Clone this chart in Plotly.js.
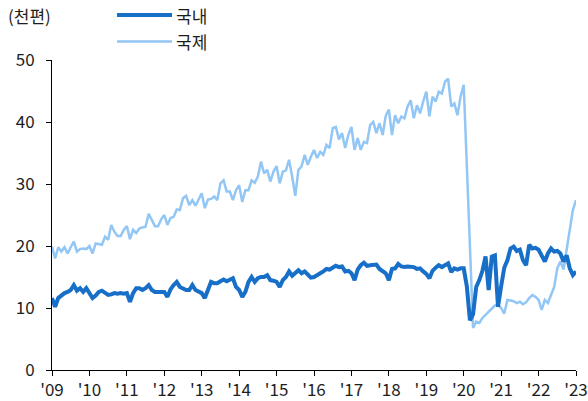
<!DOCTYPE html>
<html>
<head>
<meta charset="utf-8">
<script src="https://cdn.plot.ly/plotly-3.0.1.min.js"></script>
<style>
  html, body { margin: 0; padding: 0; background: white; }
  #grafica { width: 588px; height: 401px; }
</style>
</head>
<body>
<div id="grafica"></div>
<script>
// 월별 운항편수 (천편), 2009.01 ~ 2023.01
const anioInicio = 2009;
const etiquetasAnio = ["'09", "'10", "'11", "'12", "'13", "'14", "'15", "'16", "'17", "'18", "'19", "'20", "'21", "'22", "'23"];
const nombreSerie = ["국내", "국제"];

const domestico = [
    11.6, 10.2, 11.6, 12.1, 12.4, 12.6, 12.9, 13.7, 12.8, 13.2, 12.6, 13.2, // 2009
    12.4, 11.6, 12.0, 12.6, 12.8, 12.4, 12.1, 12.2, 12.4, 12.3, 12.4, 12.3, // 2010
    12.4, 11.0, 12.4, 13.2, 13.2, 12.9, 13.2, 13.7, 12.9, 12.6, 12.6, 12.6, // 2011
    12.6, 11.8, 13.0, 13.7, 14.2, 13.4, 13.2, 12.9, 12.9, 13.7, 12.9, 12.6, // 2012
    12.4, 11.6, 12.9, 14.2, 14.0, 14.0, 14.3, 14.6, 14.3, 14.5, 14.8, 13.4, // 2013
    12.9, 11.8, 12.6, 14.2, 15.0, 14.2, 14.8, 15.0, 15.0, 15.3, 14.5, 14.4, // 2014
    14.2, 13.4, 14.5, 15.0, 15.9, 15.2, 15.6, 16.1, 15.6, 15.9, 15.4, 14.9, // 2015
    15.0, 15.4, 15.6, 15.9, 16.3, 16.2, 16.6, 16.8, 16.6, 16.7, 15.9, 16.0, // 2016
    15.6, 14.5, 16.2, 16.9, 17.3, 16.8, 16.9, 16.9, 17.0, 16.3, 16.0, 15.6, // 2017
    14.5, 16.3, 16.4, 17.1, 16.7, 16.6, 16.7, 16.7, 16.6, 16.3, 16.4, 15.9, // 2018
    15.5, 14.8, 16.0, 16.5, 16.9, 16.6, 16.9, 17.2, 15.8, 16.4, 16.2, 16.4, // 2019
    16.4, 13.5, 8.0, 9.0, 13.4, 14.5, 16.0, 18.3, 12.9, 18.3, 18.5, 10.2,   // 2020
    13.5, 16.5, 17.7, 19.6, 19.9, 19.2, 19.4, 17.7, 16.9, 20.2, 19.6, 19.7, // 2021
    19.4, 18.5, 17.5, 18.8, 19.6, 19.1, 19.2, 18.8, 17.5, 18.5, 16.4, 15.3, // 2022
    15.9                                                                    // 2023
];

const internacional = [
    19.9, 18.0, 19.8, 19.1, 19.8, 18.8, 19.8, 20.7, 19.1, 19.5, 19.6, 19.5, // 2009
    20.0, 18.8, 20.4, 20.3, 20.2, 21.5, 21.0, 23.4, 22.3, 21.6, 21.6, 22.6, // 2010
    23.2, 21.1, 22.6, 22.1, 22.8, 23.0, 23.1, 25.2, 24.2, 23.2, 23.2, 24.3, // 2011
    25.0, 23.4, 24.5, 24.7, 25.9, 25.8, 27.7, 28.1, 26.6, 27.4, 26.5, 27.5, // 2012
    28.5, 26.1, 27.5, 27.6, 28.0, 27.4, 30.1, 30.6, 28.8, 28.8, 27.4, 29.0, // 2013
    29.8, 27.1, 29.0, 29.0, 30.6, 30.2, 31.2, 33.6, 31.7, 32.3, 30.4, 32.0, // 2014
    32.9, 30.1, 32.0, 32.2, 33.9, 31.2, 28.1, 32.3, 32.8, 34.7, 33.1, 34.4, // 2015
    35.5, 34.2, 35.2, 34.7, 36.3, 35.8, 39.0, 39.2, 37.2, 38.2, 35.8, 37.9, // 2016
    39.2, 35.5, 37.4, 35.5, 36.8, 36.6, 39.5, 40.0, 38.2, 39.8, 37.9, 41.0, // 2017
    42.0, 37.9, 41.1, 39.8, 40.9, 40.6, 42.5, 43.5, 40.6, 42.7, 41.4, 43.3, // 2018
    44.9, 40.9, 44.1, 43.3, 44.9, 44.6, 46.5, 47.0, 42.5, 43.0, 41.1, 44.1, // 2019
    46.0, 33.0, 19.5, 6.8, 7.8, 7.6, 8.4, 8.9, 9.3, 9.9, 10.4, 10.5,       // 2020
    10.0, 9.1, 11.3, 11.2, 11.1, 10.8, 11.0, 10.6, 10.9, 11.6, 12.1, 11.8,  // 2021
    11.3, 9.7, 11.3, 10.8, 12.1, 13.4, 16.4, 17.5, 16.2, 19.4, 23.1, 25.8,  // 2022
    27.4                                                                    // 2023
];

const meses = domestico.map((_, i) => anioInicio + i / 12);
const posAnio = etiquetasAnio.map((_, i) => anioInicio + i);

const colorDom = "#176fc8";
const colorInt = "#92c6f5";
const colorTexto = "#1e1e1e";
const fuente = "'Noto Sans CJK KR', 'Noto Sans', sans-serif";

const serieInt = {
    x: meses,
    y: internacional,
    mode: "lines",
    name: nombreSerie[1],
    line: { color: colorInt, width: 2.5 },
    showlegend: false
};

const serieDom = {
    x: meses,
    y: domestico,
    mode: "lines",
    name: nombreSerie[0],
    line: { color: colorDom, width: 4 },
    showlegend: false
};

// leyenda dibujada a mano (líneas más largas que las de Plotly)
const leyendaY = [1.145, 1.06];
const leyendaColor = [colorDom, colorInt];
const leyendaAncho = [4, 2.5];

const formas = nombreSerie.map((_, i) => ({
    type: "line", xref: "paper", yref: "paper",
    x0: 0.124, x1: 0.229, y0: leyendaY[i], y1: leyendaY[i],
    line: { color: leyendaColor[i], width: leyendaAncho[i] }
}));

const notas = nombreSerie.map((n, i) => ({
    text: n, xref: "paper", yref: "paper",
    x: 0.233, y: leyendaY[i], xanchor: "left", yanchor: "middle",
    showarrow: false, font: { family: fuente, size: 17, color: colorTexto }
}));

notas.push({
    text: "(천편)", xref: "paper", yref: "paper",
    x: -0.088, y: 1.145, xanchor: "left", yanchor: "middle",
    showarrow: false, font: { family: fuente, size: 17, color: colorTexto }
});

const layout = {
    width: 588,
    height: 401,
    margin: { l: 52, r: 12, t: 60, b: 31 },
    paper_bgcolor: "white",
    plot_bgcolor: "white",
    font: { family: fuente, size: 17, color: colorTexto },
    xaxis: {
        range: [anioInicio, anioInicio + etiquetasAnio.length - 1],
        tickvals: posAnio,
        ticktext: etiquetasAnio,
        showgrid: false,
        zeroline: false,
        showline: true,
        linecolor: "#000",
        linewidth: 1,
        ticks: "outside",
        ticklen: 5,
        tickcolor: "#000",
        tickfont: { family: fuente, size: 17, color: colorTexto }
    },
    yaxis: {
        range: [0, 50],
        tickvals: [0, 10, 20, 30, 40, 50],
        showgrid: false,
        zeroline: false,
        showline: true,
        linecolor: "#000",
        linewidth: 1,
        ticks: "outside",
        ticklen: 5,
        tickcolor: "#000",
        ticklabelstandoff: 8,
        tickfont: { family: fuente, size: 17, color: colorTexto }
    },
    shapes: formas,
    annotations: notas
};

Plotly.newPlot("grafica", [serieInt, serieDom], layout, { staticPlot: true, displayModeBar: false });
</script>
</body>
</html>
